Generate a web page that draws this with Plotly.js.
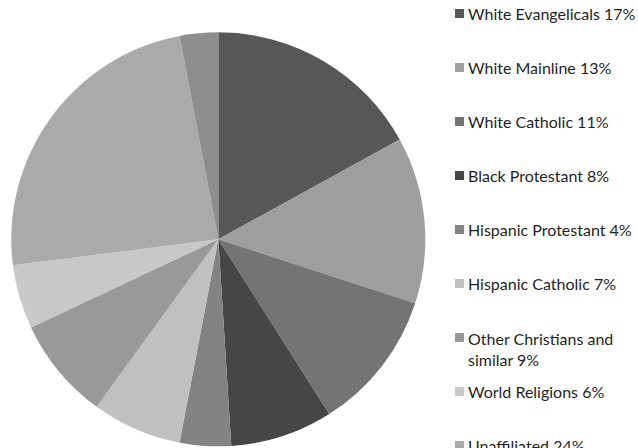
<!DOCTYPE html>
<html>
<head>
<meta charset="utf-8">
<script src="https://cdn.plot.ly/plotly-3.0.1.min.js"></script>
<style>html,body{margin:0;padding:0;background:#fff;}#chart{width:638px;height:448px;}</style>
</head>
<body>
<div id="chart"></div>
<script>
var categories = ["White Evangelicals", "White Mainline", "White Catholic", "Black Protestant",
  "Hispanic Protestant", "Hispanic Catholic", "Other Christians and similar", "World Religions",
  "Unaffiliated", "Other"];
// slice sizes
var values = [17, 13, 11, 8, 4, 7, 8, 5, 24, 3];
// percentages as printed in the legend
var printedPct = [17, 13, 11, 8, 4, 7, 9, 6, 24, 3];
var colors = ["#575757", "#9e9e9e", "#747474", "#464646", "#838383", "#c0c0c0",
  "#999999", "#c8c8c8", "#aaaaaa", "#8e8e8e"];

var W = 638, H = 448;
var cx = 218.3, cy = 239.3, R = 207;

var labels = categories.map(function (c, i) { return c + " " + printedPct[i] + "%"; });

function wrap(s, max) {
  if (s.length <= max) return [s];
  var cut = s.lastIndexOf(" ", max);
  return [s.slice(0, cut), s.slice(cut + 1)];
}

var annotations = [], shapes = [];
labels.forEach(function (t, i) {
  var lines = wrap(t, 22);
  var y0 = 13.5 + 54 * i;
  if (y0 > H + 8) return;
  var yc = y0 + 11 * (lines.length - 1);
  annotations.push({
    xref: "paper", yref: "paper",
    x: 466 / W, y: 1 - yc / H, xanchor: "left", yanchor: "middle",
    text: lines.join("<br>"), showarrow: false, align: "left",
    font: {family: "Lato, 'Open Sans', sans-serif", size: 16, color: "#1f1f1f"}
  });
  shapes.push({
    type: "rect", xref: "paper", yref: "paper",
    x0: 455 / W, x1: 464 / W, y0: 1 - (y0 + 4.5) / H, y1: 1 - (y0 - 4.5) / H,
    fillcolor: colors[i], line: {width: 0}
  });
});

var trace = {
  type: "pie",
  labels: labels,
  values: values,
  sort: false,
  direction: "clockwise",
  rotation: 0,
  textinfo: "none",
  hoverinfo: "label",
  marker: {colors: colors, line: {width: 0}},
  domain: {x: [(cx - R) / W, (cx + R) / W], y: [(H - cy - R) / H, (H - cy + R) / H]},
  showlegend: false
};

Plotly.newPlot("chart", [trace], {
  width: W, height: H,
  margin: {l: 0, r: 0, t: 0, b: 0},
  paper_bgcolor: "#ffffff",
  showlegend: false,
  annotations: annotations,
  shapes: shapes
}, {displayModeBar: false, staticPlot: true});
</script>
</body>
</html>
